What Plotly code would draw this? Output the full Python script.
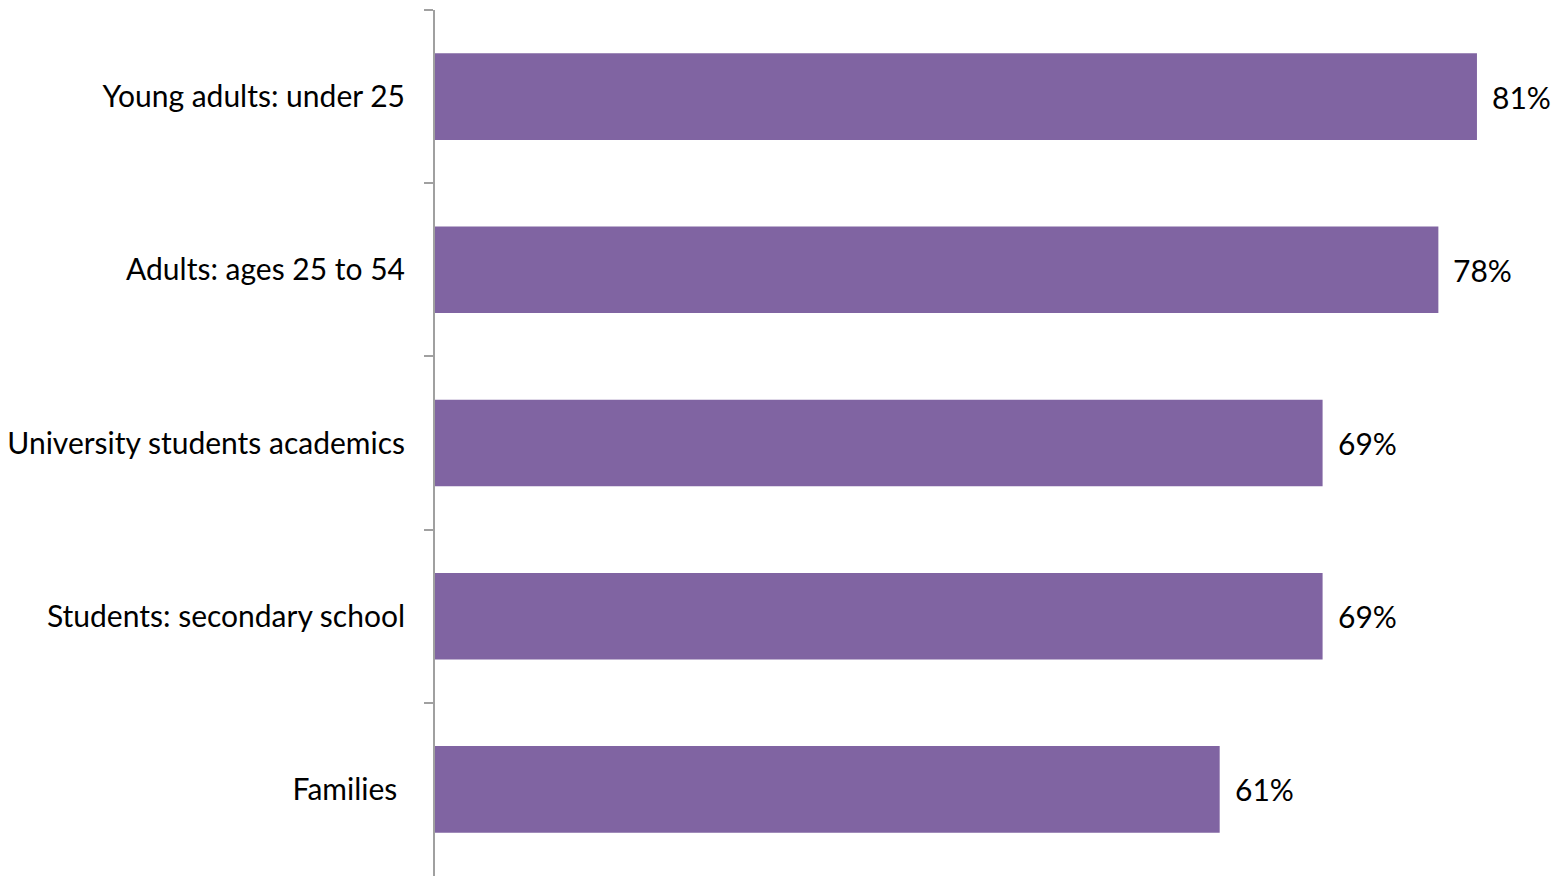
import plotly.graph_objects as go

# Share of respondents by audience group (%)
groups = [
    "Young adults: under 25",
    "Adults: ages 25 to 54",
    "University students academics",
    "Students: secondary school",
    "Families\u00a0",
]
shares = [81, 78, 69, 69, 61]

BAR_COLOR = "#8064A2"
AXIS_COLOR = "#A0A0A0"
FONT = dict(family="Lato, 'Open Sans', sans-serif", size=30, color="#000000")

fig = go.Figure(
    go.Bar(
        x=shares,
        y=groups,
        orientation="h",
        marker=dict(color=BAR_COLOR, line=dict(width=0)),
        hoverinfo="skip",
    )
)

# Percentage labels just to the right of each bar
for g, v in zip(groups, shares):
    fig.add_annotation(
        x=v, y=g, text=f"{v}%", showarrow=False,
        xanchor="left", yanchor="middle", xshift=13,
        font=FONT,
    )

fig.update_layout(
    width=1558,
    height=876,
    margin=dict(l=435, r=0, t=10, b=0),
    paper_bgcolor="white",
    plot_bgcolor="white",
    bargap=0.5,
    showlegend=False,
    font=FONT,
    xaxis=dict(
        range=[0, 87.3],
        visible=False,
        showgrid=False,
        zeroline=False,
    ),
    yaxis=dict(
        autorange="reversed",
        showline=True,
        linecolor=AXIS_COLOR,
        linewidth=2,
        ticks="outside",
        tickson="boundaries",
        ticklen=9,
        tickwidth=2,
        tickcolor=AXIS_COLOR,
        ticklabelstandoff=22,
        showgrid=False,
        tickfont=FONT,
    ),
)

fig.write_html("out.html")
